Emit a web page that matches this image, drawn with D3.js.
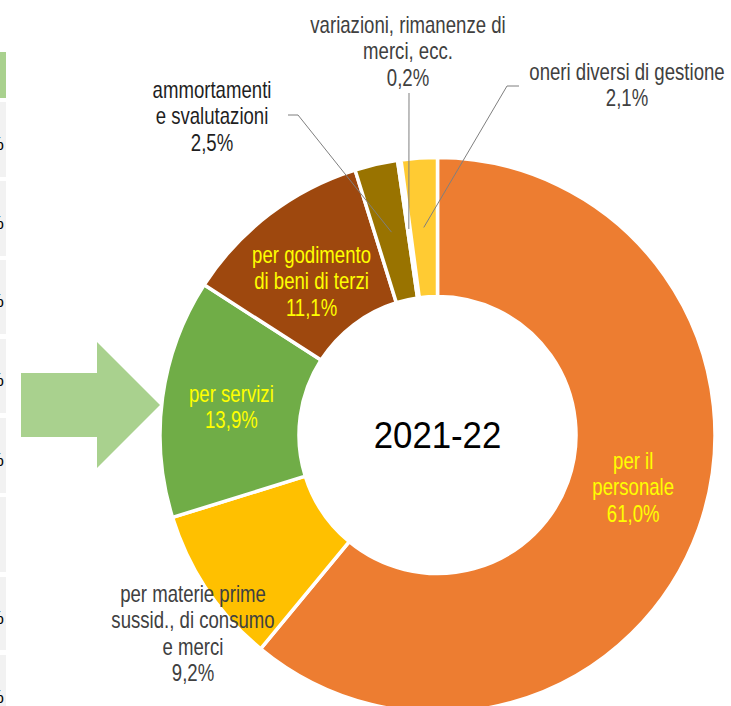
<!DOCTYPE html>
<html>
<head>
<meta charset="utf-8">
<script src="https://cdn.jsdelivr.net/npm/d3@7"></script>
<style>
  html, body { margin: 0; padding: 0; background: #fff; }
  svg { display: block; }
  .lbl { font-family: "Liberation Sans", Arial, sans-serif; }
</style>
</head>
<body>
<svg id="chart" width="731" height="706"></svg>
<script>
// Cost breakdown for the 2021-22 period (shares in %)
const categories = [
  "per il personale",
  "per materie prime sussid., di consumo e merci",
  "per servizi",
  "per godimento di beni di terzi",
  "ammortamenti e svalutazioni",
  "variazioni, rimanenze di merci, ecc.",
  "oneri diversi di gestione"
];
const values = [61.0, 9.2, 13.9, 11.1, 2.5, 0.2, 2.1];
const colors = ["#ed7d31", "#ffc000", "#70ad47", "#9e480e", "#997300", "#ffd966", "#ffcb33"];
const labelLines = [
  ["per il", "personale"],
  ["per materie prime", "sussid., di consumo", "e merci"],
  ["per servizi"],
  ["per godimento", "di beni di terzi"],
  ["ammortamenti", "e svalutazioni"],
  ["variazioni, rimanenze di", "merci, ecc."],
  ["oneri diversi di gestione"]
];
const periodLabel = "2021-22";

// Side table rows that sit at the left edge (partly outside the view)
const sideRows = [
  { y0: 52,  y1: 98,  hi: true,  pct: false },
  { y0: 102, y1: 177, hi: false, pct: true },
  { y0: 181, y1: 256, hi: false, pct: true },
  { y0: 260, y1: 334, hi: false, pct: true },
  { y0: 339, y1: 413, hi: false, pct: true },
  { y0: 418, y1: 493, hi: false, pct: true },
  { y0: 497, y1: 572, hi: false, pct: false },
  { y0: 577, y1: 650, hi: false, pct: true },
  { y0: 655, y1: 730, hi: false, pct: true }
];

const fmt = v => v.toFixed(1).replace(".", ",") + "%";

const svg = d3.select("#chart");

// ---- side table strip
const side = svg.append("g");
side.selectAll("rect").data(sideRows).join("rect")
  .attr("x", 0).attr("width", 6)
  .attr("y", d => d.y0).attr("height", d => d.y1 - d.y0)
  .attr("fill", d => d.hi ? "#a9d18e" : "#f2f2f2");
side.selectAll("text").data(sideRows.filter(d => d.pct)).join("text")
  .attr("x", 4).attr("y", d => (d.y0 + d.y1) / 2 + 10)
  .attr("text-anchor", "end")
  .attr("font-family", "Liberation Sans, sans-serif")
  .attr("font-size", 19).attr("fill", "#000")
  .text("%");

// ---- arrow pointing at the highlighted slice
const arrowPts = [[21, 373], [97, 373], [97, 342], [160, 405], [97, 468], [97, 437], [21, 437]];
svg.append("path")
  .attr("d", d3.line()(arrowPts) + "Z")
  .attr("fill", "#a9d18e");

// ---- donut
const cx = 437.5, cy = 435;
const outerR = 277.5, innerR = 138.5, midR = 208;

const pie = d3.pie().sort(null).value(d => d).startAngle(0).endAngle(2 * Math.PI);
const arcs = pie(values);
const arc = d3.arc().innerRadius(innerR).outerRadius(outerR);
const midArc = d3.arc().innerRadius(midR).outerRadius(midR);

const g = svg.append("g").attr("transform", `translate(${cx},${cy})`);

g.selectAll("path.slice").data(arcs).join("path")
  .attr("class", "slice")
  .attr("d", arc)
  .attr("fill", (d, i) => colors[i])
  .attr("stroke", "#fff")
  .attr("stroke-width", 3.5)
  .attr("stroke-linejoin", "miter");

// centre label
g.append("g").attr("transform", "scale(0.94,1)")
  .append("text")
  .attr("x", 0).attr("y", 13)
  .attr("text-anchor", "middle")
  .attr("font-family", "Liberation Sans, Arial, sans-serif")
  .attr("font-size", 37)
  .attr("fill", "#000")
  .text(periodLabel);

// label placement: inside labels are offset from the slice centroid,
// outside labels sit at a fixed anchor with a leader line to the centroid
const labelLayout = [
  { inside: true,  dx: 0,   dy: -18 },
  { inside: false, x: 193, y: 594 },
  { inside: true,  dx: 0,   dy: 0 },
  { inside: true,  dx: 0,   dy: 12 },
  { inside: false, x: 212, y: 90,  lead: [[288, 115], [298, 115]], color: "#1f1f1f" },
  { inside: false, x: 408, y: 25,  lead: [[409, 93]] },
  { inside: false, x: 627, y: 72,  lead: [[519, 86], [507, 86]] }
];

const lineH = 26.5;
const fs = 24;
const squeeze = 0.775;   // condensed look for the slice labels

// leader lines
labelLayout.forEach((L, i) => {
  if (L.lead) {
    const c = midArc.centroid(arcs[i]);
    const pts = L.lead.concat([[c[0] + cx, c[1] + cy]]);
    svg.append("path")
      .attr("d", d3.line()(pts))
      .attr("fill", "none")
      .attr("stroke", "#7f7f7f")
      .attr("stroke-width", 1);
  }
});

// slice labels
labelLayout.forEach((L, i) => {
  const lines = labelLines[i].concat([fmt(values[i])]);
  let x, yTop;
  if (L.inside) {
    const c = midArc.centroid(arcs[i]);
    x = c[0] + cx + L.dx;
    const yc = c[1] + cy + L.dy;
    yTop = yc - (lines.length - 1) * lineH / 2;
  } else {
    x = L.x; yTop = L.y;
  }
  const t = svg.append("g")
    .attr("transform", `translate(${x},0) scale(${squeeze},1)`)
    .append("text")
    .attr("class", "lbl")
    .attr("text-anchor", "middle")
    .attr("font-size", fs)
    .attr("fill", L.inside ? "#ffff00" : (L.color || "#404040"));
  lines.forEach((s, k) => {
    t.append("tspan")
      .attr("x", 0)
      .attr("y", yTop + k * lineH + 8)
      .text(s);
  });
});
</script>
</body>
</html>
